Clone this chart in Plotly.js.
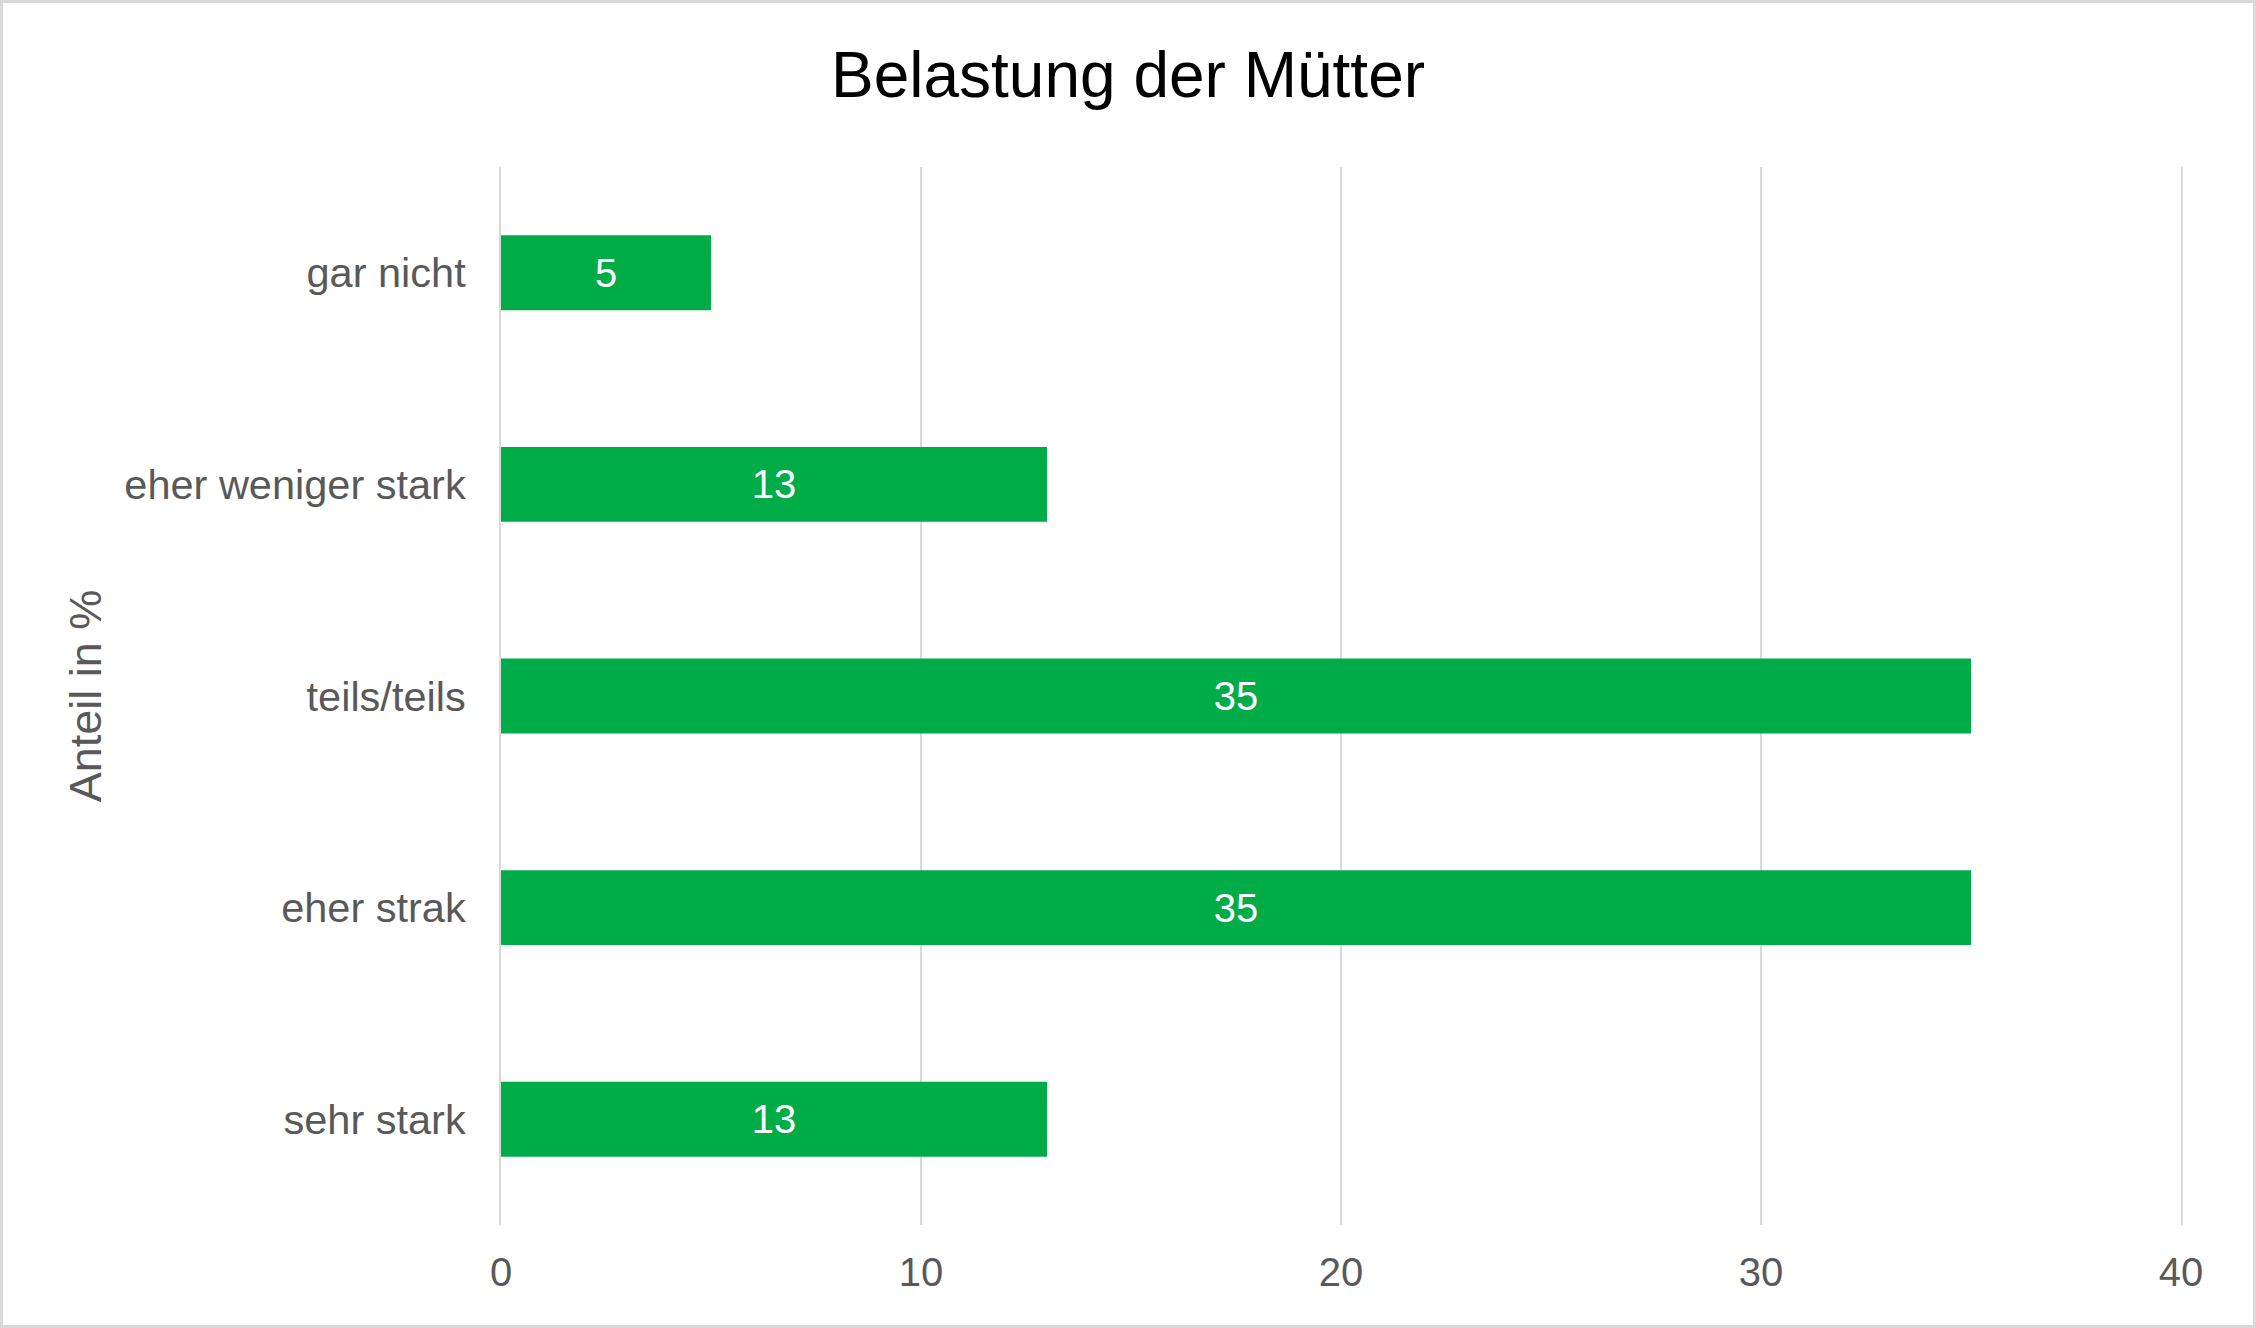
<!DOCTYPE html>
<html>
<head>
<meta charset="utf-8">
<script src="https://cdn.plot.ly/plotly-3.0.1.min.js"></script>
<style>
html,body{margin:0;padding:0;background:#fff;}
#wrap{position:relative;width:2256px;height:1328px;}
#chart{width:2256px;height:1328px;}
#frame{position:absolute;left:0;top:0;width:2256px;height:1328px;box-sizing:border-box;border:3px solid #d9d9d9;pointer-events:none;}
</style>
</head>
<body>
<div id="wrap"><div id="chart"></div><div id="frame"></div></div>
<script>
const categories = ["gar nicht", "eher weniger stark", "teils/teils", "eher strak", "sehr stark"];
const values = [5, 13, 35, 35, 13];
const xTicks = [0, 10, 20, 30, 40];
const chartTitle = "Belastung der Mütter";
const axisTitle = "Anteil in %";

const font = "Liberation Sans, Arial, sans-serif";

const trace = {
  type: "bar",
  orientation: "h",
  y: categories,
  x: values,
  marker: {color: "#00ac47"},
  text: values.map(String),
  textposition: "inside",
  insidetextanchor: "middle",
  textfont: {family: font, size: 40, color: "#ffffff"},
  hoverinfo: "x+y",
  cliponaxis: false
};

const layout = {
  width: 2256,
  height: 1328,
  paper_bgcolor: "#ffffff",
  plot_bgcolor: "#ffffff",
  margin: {l: 501, r: 75, t: 167, b: 103, pad: 0},
  bargap: 0.646,
  showlegend: false,
  font: {family: font, color: "#595959"},
  title: {
    text: chartTitle,
    font: {family: font, size: 64, color: "#000000"},
    x: 0.5, xref: "container", xanchor: "center",
    y: 1 - 75/1328, yref: "container", yanchor: "middle"
  },
  xaxis: {
    range: [xTicks[0], xTicks[xTicks.length - 1]],
    tickvals: xTicks,
    ticktext: xTicks.map(String),
    showgrid: true,
    gridcolor: "#d9d9d9",
    gridwidth: 2,
    zeroline: false,
    showline: false,
    ticks: "",
    tickfont: {family: font, size: 40, color: "#595959"},
    ticklabelstandoff: 20,
    fixedrange: true
  },
  yaxis: {
    type: "category",
    autorange: "reversed",
    showgrid: false,
    zeroline: false,
    showline: true,
    mirror: true,
    linecolor: "#d9d9d9",
    linewidth: 2,
    layer: "below traces",
    ticks: "",
    tickfont: {family: font, size: 41.5, color: "#595959"},
    ticklabelstandoff: 25,
    automargin: false,
    title: {text: axisTitle, font: {family: font, size: 45, color: "#595959"}, standoff: 9},
    fixedrange: true
  }
};

Plotly.newPlot("chart", [trace], layout, {displayModeBar: false, staticPlot: true});
</script>
</body>
</html>
